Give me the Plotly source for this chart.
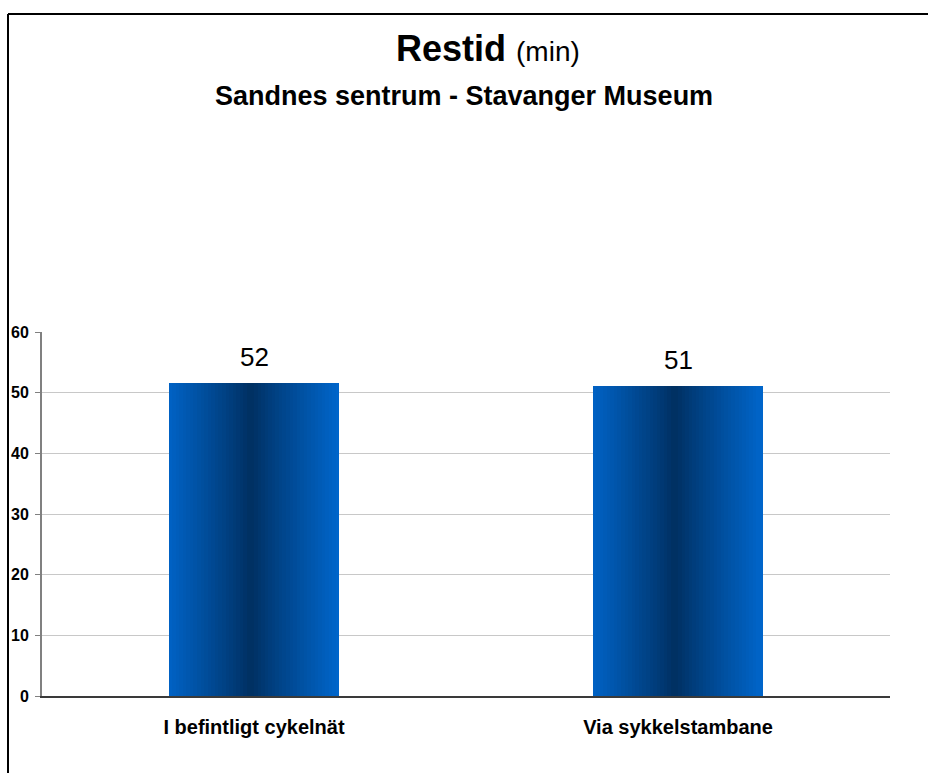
import plotly.graph_objects as go

# Travel time (minutes) for each route option
categories = ["I befintligt cykelnät", "Via sykkelstambane"]
travel_min = [51.6, 51.1]
y_ticks = [0, 10, 20, 30, 40, 50, 60]

FONT = "Liberation Sans, Arial, sans-serif"
W, H = 928, 773
M_L, M_R, M_T, M_B = 42, 38, 332, 77
PLOT_W = W - M_L - M_R
PLOT_H = H - M_T - M_B


def px_x(x):
    """Pixel column -> paper x."""
    return (x - M_L) / PLOT_W


def px_y(y):
    """Pixel row -> paper y."""
    return (H - M_B - y) / PLOT_H


def hex_rgb(h):
    h = h.lstrip("#")
    return tuple(int(h[i:i + 2], 16) for i in (0, 2, 4))


EDGE = hex_rgb("#0066CC")
CORE = hex_rgb("#002F60")


def shade(t):
    # horizontal cylinder-like shading: bright edges, dark middle
    d = min(1.0, abs(t - 0.48) / 0.52)
    d = d ** 0.9
    r, g, b = (round(c0 + (c1 - c0) * d) for c0, c1 in zip(CORE, EDGE))
    return f"rgb({r},{g},{b})"


fig = go.Figure()

BAR_W = 0.403
N_STRIPS = 48
strip = BAR_W / N_STRIPS
for i in range(N_STRIPS):
    t = (i + 0.5) / N_STRIPS
    last = i == N_STRIPS - 1
    fig.add_trace(go.Bar(
        x=categories,
        y=travel_min,
        width=strip if last else strip * 1.1,
        offset=-BAR_W / 2 + i * strip,
        marker=dict(color=shade(t), line=dict(width=0)),
        showlegend=False,
        hoverinfo="skip",
    ))

# value labels above the bars
for cat, v in zip(categories, travel_min):
    fig.add_annotation(
        x=cat, y=v, xref="x", yref="y",
        text=f"{v:.0f}", showarrow=False,
        yanchor="bottom", yshift=9,
        font=dict(family=FONT, size=26, color="#000000"),
    )

# titles
fig.add_annotation(
    x=px_x(488), y=px_y(48), xref="paper", yref="paper",
    text="<b>Restid</b> <span style='font-size:28px'>(min)</span>",
    showarrow=False, xanchor="center", yanchor="middle",
    font=dict(family=FONT, size=36, color="#000000"),
)
fig.add_annotation(
    x=px_x(464), y=px_y(96), xref="paper", yref="paper",
    text="<b>Sandnes sentrum - Stavanger Museum</b>",
    showarrow=False, xanchor="center", yanchor="middle",
    font=dict(family=FONT, size=27, color="#000000"),
)

# outer chart frame (top and left edges)
frame = dict(color="#000000", width=2)
fig.add_shape(type="line", xref="paper", yref="paper",
              x0=px_x(8), x1=px_x(930), y0=px_y(14), y1=px_y(14), line=frame)
fig.add_shape(type="line", xref="paper", yref="paper",
              x0=px_x(8), x1=px_x(8), y0=px_y(14), y1=px_y(775), line=frame)

fig.update_layout(
    width=W, height=H,
    margin=dict(l=M_L, r=M_R, t=M_T, b=M_B, pad=0, autoexpand=False),
    paper_bgcolor="#FFFFFF", plot_bgcolor="#FFFFFF",
    barmode="overlay",
    bargap=0,
    font=dict(family=FONT, color="#000000"),
)
fig.update_xaxes(
    type="category",
    automargin=False,
    showgrid=False,
    showline=True, linecolor="#3A3A3A", linewidth=2,
    ticks="", ticklabelstandoff=12,
    tickfont=dict(family=FONT, size=20, color="#000000", weight="bold"),
    zeroline=False,
)
fig.update_yaxes(
    range=[0, 60],
    automargin=False,
    tickvals=y_ticks,
    showgrid=True, gridcolor="#C8C8C8", gridwidth=1,
    showline=True, linecolor="#808080", linewidth=2,
    ticks="outside", ticklen=5, tickcolor="#808080", tickwidth=1,
    ticklabelstandoff=3,
    tickfont=dict(family=FONT, size=16, color="#000000", weight="bold"),
    zeroline=False,
)

fig.write_html("out.html")
